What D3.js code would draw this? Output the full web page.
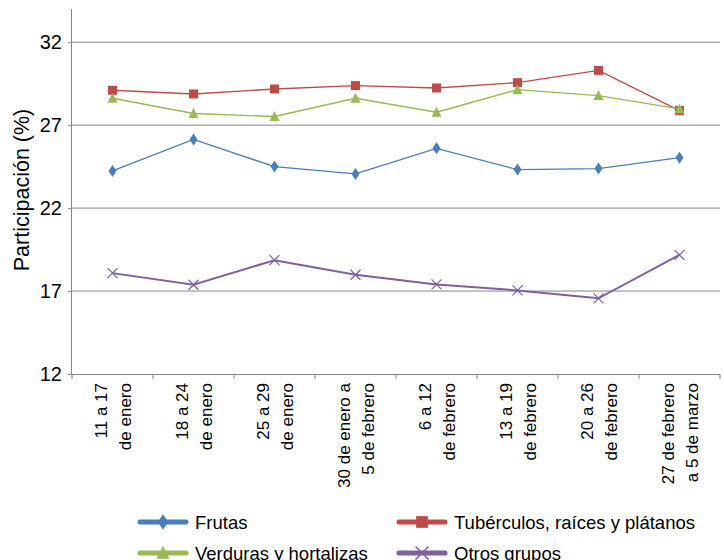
<!DOCTYPE html>
<html><head><meta charset="utf-8">
<script src="https://cdn.jsdelivr.net/npm/d3@7"></script>
<style>body{margin:0;background:#fff}svg{font-family:"Liberation Sans",Arial,sans-serif}</style>
</head><body><svg id="c" width="724" height="560"></svg>
<script>
const categories = [["11 a 17","de enero"],["18 a 24","de enero"],["25 a 29","de enero"],["30 de enero a","5 de febrero"],["6 a 12","de febrero"],["13 a 19","de febrero"],["20 a 26","de febrero"],["27 de febrero","a 5 de marzo"]];
const frutas = [24.24, 26.14, 24.5, 24.06, 25.6, 24.32, 24.38, 25.04];
const tuberculos = [29.1, 28.88, 29.18, 29.38, 29.24, 29.56, 30.3, 27.88];
const verduras = [28.62, 27.7, 27.52, 28.62, 27.78, 29.14, 28.78, 27.98];
const otros = [18.08, 17.38, 18.86, 17.98, 17.4, 17.04, 16.56, 19.18];
const yTicks = [12, 17, 22, 27, 32];
const seriesNames = ["Frutas","Tubérculos, raíces y plátanos","Verduras y hortalizas","Otros grupos"];

const svg = d3.select("#c");
const L = 72, R = 720, T = 9, B = 374;
const x = d3.scaleBand().domain(d3.range(categories.length)).range([L, R]);
const y = d3.scaleLinear().domain([12, 34]).range([B, T]);

// gridlines
svg.append("g").selectAll("line").data(yTicks.slice(1)).join("line")
  .attr("x1", L).attr("x2", R).attr("y1", d => y(d)).attr("y2", d => y(d))
  .attr("stroke", "#868686").attr("stroke-width", 1);

// y axis
const ya = svg.append("g").attr("transform", `translate(${L},0)`)
  .call(d3.axisLeft(y).tickValues(yTicks).tickSize(4).tickPadding(6));
ya.select(".domain").attr("stroke", "#868686").attr("d", `M-0.5,${T}V${B}`);
ya.selectAll(".tick line").attr("stroke", "#868686");
ya.selectAll(".tick text").attr("font-size", 20).attr("fill", "#000").attr("font-family", "Liberation Sans, Arial, sans-serif");

// x axis
const xa = svg.append("g").attr("transform", `translate(0,${B})`);
xa.append("line").attr("x1", L).attr("x2", R).attr("y1", 0.5).attr("y2", 0.5).attr("stroke", "#868686");
xa.selectAll("line.t").data(d3.range(categories.length + 1)).join("line").attr("class","t")
  .attr("x1", i => L + i * x.bandwidth()).attr("x2", i => L + i * x.bandwidth())
  .attr("y1", 0).attr("y2", 5).attr("stroke", "#868686");
const lab = xa.selectAll("g.lab").data(categories).join("g").attr("class","lab")
  .attr("transform", (d, i) => `translate(${x(i) + x.bandwidth() / 2},9) rotate(-90)`);
lab.each(function(d) {
  const g = d3.select(this);
  d.forEach((t, k) => {
    g.append("text").attr("x", 0).attr("y", k === 0 ? -5.5 : 18.5)
      .attr("text-anchor", "end").attr("font-size", 17).attr("fill", "#000").text(t);
  });
});

// y label
svg.append("text").attr("transform", `translate(29,190) rotate(-90)`)
  .attr("text-anchor", "middle").attr("font-size", 21.5).attr("fill", "#000").text("Participación (%)");

const cx = i => x(i) + x.bandwidth() / 2;
const line = d3.line().x((d, i) => cx(i)).y(d => y(d));

function marker(g, type, color) {
  if (type === "diamond") g.append("path").attr("d", "M0,-6L4,0L0,6L-4,0Z").attr("fill", color);
  else if (type === "square") g.append("rect").attr("x", -4.5).attr("y", -4.5).attr("width", 9).attr("height", 9).attr("fill", color);
  else if (type === "triangle") g.append("path").attr("d", "M0,-5.5L5,4.5L-5,4.5Z").attr("fill", color);
  else g.append("path").attr("d", "M-5,-5L5,5M-5,5L5,-5").attr("stroke", color).attr("stroke-width", 1.2).attr("fill", "none");
}

const series = [
  {name: seriesNames[0], v: frutas, c: "#4a7ebb", m: "diamond", w: 1.4},
  {name: seriesNames[1], v: tuberculos, c: "#be4b48", m: "square", w: 1.4},
  {name: seriesNames[2], v: verduras, c: "#98b954", m: "triangle", w: 1.4},
  {name: seriesNames[3], v: otros, c: "#7d60a0", m: "x", w: 2}
];
series.forEach(s => {
  svg.append("path").attr("d", line(s.v)).attr("fill", "none").attr("stroke", s.c).attr("stroke-width", s.w);
  s.v.forEach((v, i) => {
    const g = svg.append("g").attr("transform", `translate(${cx(i)},${y(v)})`);
    marker(g, s.m, s.c);
  });
});

// legend
const legPos = [[140, 522], [399, 522], [140, 553], [399, 553]];
series.forEach((s, k) => {
  const [lx, ly] = legPos[k];
  const g = svg.append("g").attr("transform", `translate(${lx},${ly})`);
  g.append("line").attr("x1", 0).attr("x2", 46).attr("stroke", s.c).attr("stroke-width", 5).attr("stroke-linecap", "round");
  const mg = g.append("g").attr("transform", "translate(23,0) scale(1.3)");
  marker(mg, s.m, s.c);
  g.append("text").attr("x", 55).attr("y", 6.5).attr("font-size", 18.5).attr("fill", "#000").text(s.name);
});
</script></body></html>
